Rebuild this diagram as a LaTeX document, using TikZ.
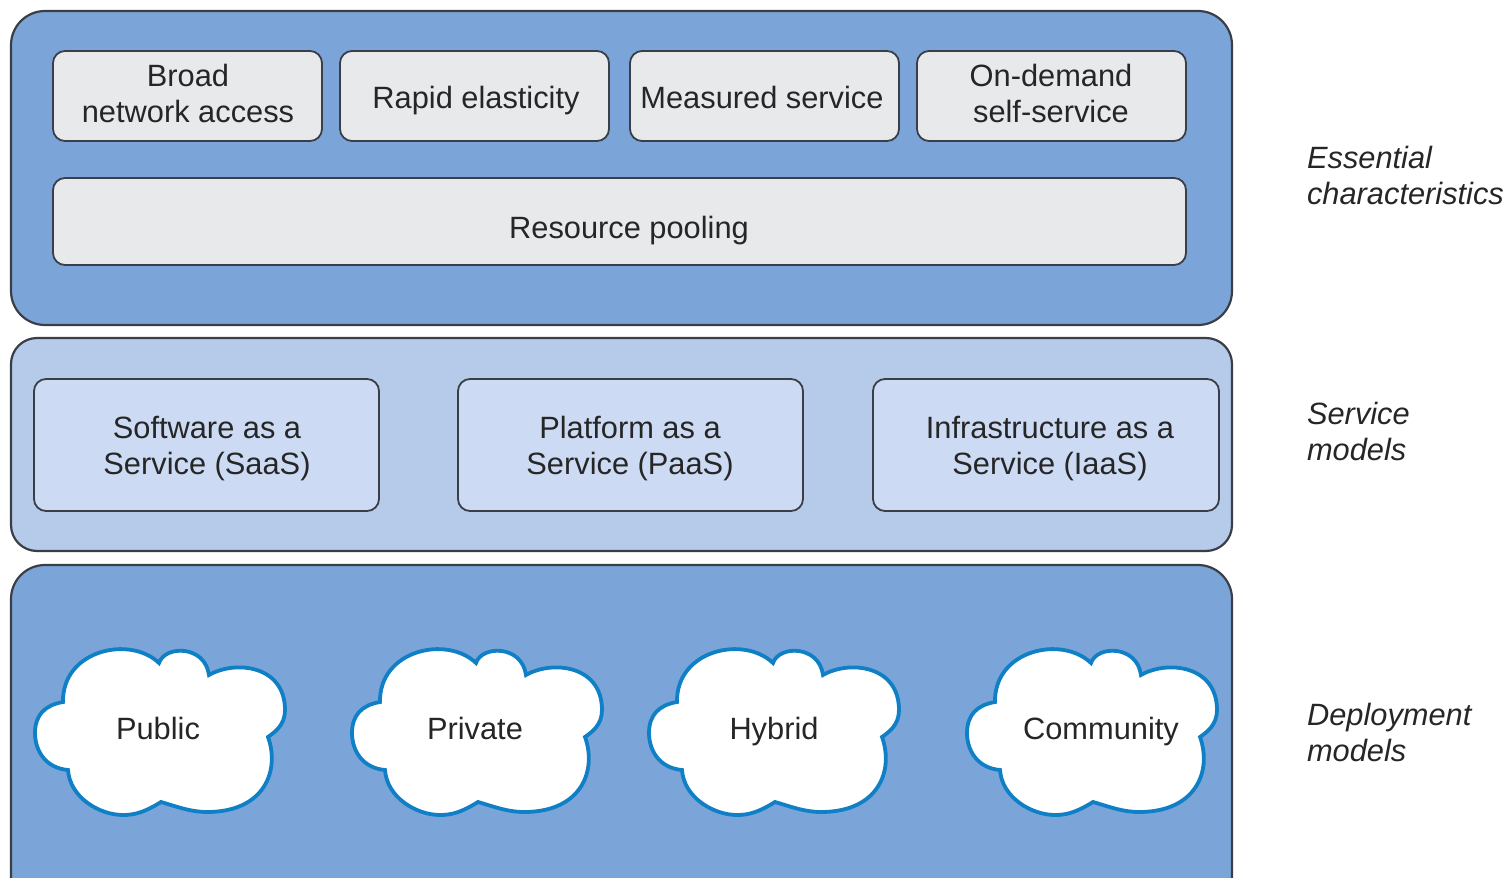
\documentclass[tikz,border=0pt]{standalone}
\usepackage{fontspec}
\setmainfont{Liberation Sans}
\definecolor{panelblue}{HTML}{7BA5D8}
\definecolor{panellight}{HTML}{B5CBE9}
\definecolor{boxgrey}{HTML}{E8E9EB}
\definecolor{boxblue}{HTML}{CCDBF3}
\definecolor{cloudline}{HTML}{0F7FC6}
\definecolor{edge}{HTML}{3A3F47}
\tikzset{
  panelbox/.style={draw=edge,line width=1.1pt,rounded corners=17pt,fill=panelblue},
  panelpale/.style={panelbox,rounded corners=13pt,fill=panellight},
  greybox/.style={draw=edge,line width=0.9pt,rounded corners=6pt,fill=boxgrey},
  bluebox/.style={draw=edge,line width=0.9pt,rounded corners=6pt,fill=boxblue},
  lab/.style={font=\fontsize{15.4}{18}\selectfont,align=center,text=black!85},
  single/.style={lab,anchor=base},
  side/.style={font=\fontsize{15.4}{18}\selectfont\itshape,align=left,anchor=west,text=black!85},
  cloudshape/.style={draw=cloudline,line width=1.9pt,fill=white},
}
\newcommand{\cloudat}[4]{%
  \begin{scope}[shift={(#1,620)}]
  \draw[cloudshape] (63,82) .. controls (62,30) and (130,15) .. (159,43)
    .. controls (165,25) and (205,25) .. (209,55)
    .. controls (235,40) and (285,45) .. (285,90)
    .. controls (285,105) and (275,112) .. (268,117)
    .. controls (280,150) and (265,192) .. (207,192)
    .. controls (190,192) and (175,186) .. (161,182)
    .. controls (145,192) and (135,195) .. (123,195)
    .. controls (100,195) and (70,178) .. (68,150)
    .. controls (45,148) and (35,130) .. (35,113)
    .. controls (35,95) and (45,85) .. (63,82) -- cycle;
  \end{scope}
  \node[single] (#3) at (#4,739) {#2};%
}
\begin{document}
\begin{tikzpicture}[x=0.5pt,y=-0.5pt]
\useasboundingbox (0,0) rectangle (1512,878);
\begin{scope}
\clip (0,0) rectangle (1512,878);
\draw[panelbox] (11,11) rectangle (1232,325);
\draw[panelpale] (11,338) rectangle (1232,551);
\draw[panelbox] (11,565) rectangle (1232,920);
\end{scope}
\draw[greybox] (53,51) rectangle (322,141);
\node[lab] (broad) at (188,93) {Broad\\network access};
\draw[greybox] (340,51) rectangle (609,141);
\node[single] (rapid) at (476,108) {Rapid elasticity};
\draw[greybox] (630,51) rectangle (899,141);
\node[single] (measured) at (762,108) {Measured service};
\draw[greybox] (917,51) rectangle (1186,141);
\node[lab] (ondemand) at (1051,93) {On-demand\\self-service};
\draw[greybox] (53,178) rectangle (1186,265);
\node[single] (pooling) at (629,238) {Resource pooling};
\draw[bluebox] (34,379) rectangle (379,511);
\node[lab] (saas) at (207,449) {Software as a\\Service (SaaS)};
\draw[bluebox] (458,379) rectangle (803,511);
\node[lab] (paas) at (630,449) {Platform as a\\Service (PaaS)};
\draw[bluebox] (873,379) rectangle (1219,511);
\node[lab] (iaas) at (1050,449) {Infrastructure as a\\Service (IaaS)};
\cloudat{0}{Public}{public}{158}
\cloudat{317}{Private}{private}{475}
\cloudat{614}{Hybrid}{hybrid}{774}
\cloudat{932}{Community}{community}{1101}
\node[side] (ess) at (1300,175) {Essential\\characteristics};
\node[side] (svc) at (1300,431) {Service\\models};
\node[side] (dep) at (1300,732) {Deployment\\models};
\end{tikzpicture}
\end{document}
